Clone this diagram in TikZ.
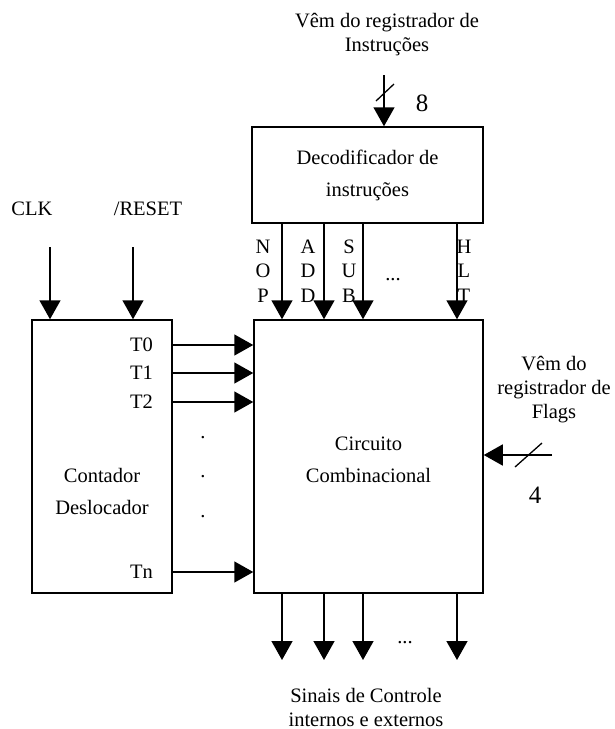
\documentclass[tikz,border=0pt]{standalone}
\usepackage{fontspec}
\setmainfont{Liberation Serif}
\usetikzlibrary{arrows.meta,positioning,calc}
\tikzset{
  block/.style={draw,rectangle,line width=1.5pt,inner sep=0pt,align=center,font=\fontsize{20.5}{32}\selectfont},
  signal/.style={-{Triangle[length=19pt,width=21pt]},line width=1.5pt},
  bus/.style={line width=1.3pt},
  lbl/.style={inner sep=0pt,align=center,font=\fontsize{20.5}{24}\selectfont},
  vlbl/.style={inner sep=0pt,align=center,font=\fontsize{20.5}{24.5}\selectfont},
  width/.style={inner sep=0pt,font=\fontsize{25}{30}\selectfont}
}

\begin{document}
\begin{tikzpicture}[x=1pt,y=-1pt]
\useasboundingbox (0,0) rectangle (614,729);

\node[block,minimum width=231pt,minimum height=96pt] (dec) at (367.5,175) {Decodificador de\\instruções};
\node[block,minimum width=229pt,minimum height=273pt] (comb) at (368.5,456.5) {};
\node[block,draw=none] (combtxt) at ($(comb.center)+(0,3)$) {Circuito\\Combinacional};
\node[block,minimum width=140pt,minimum height=273pt] (cont) at (102,456.5) {};
\node[block,draw=none] (conttxt) at ($(cont.center)+(0,35)$) {Contador\\Deslocador};

\node[lbl] (instr) at (387,35) {Vêm do registrador de\\Instruções};
\node[lbl] (flags) at (554,390) {Vêm do\\registrador de\\Flags};
\node[lbl] (sinais) at (366,707) {Sinais de Controle\\internos e externos};
\node[lbl] (clk) at (32,209) {CLK};
\node[lbl] (rst) at (148,209) {/RESET};

% barramento de instrucoes
\coordinate (in8) at (384,75);
\draw[signal] (in8) -- (in8 |- dec.north);
\draw[bus] ($(in8)+(-8,26)$) -- ++(18,-17);
\node[width] (n8) at (422,103) {8};

% flags
\coordinate (inF) at (552,455);
\draw[signal] (inF) -- (inF -| comb.east);
\draw[bus] ($(inF)+(-37,12)$) -- ++(27,-24);
\node[width] (n4) at (535,495) {4};

\coordinate (clkin) at (50,247);
\coordinate (rstin) at (133,247);
\draw[signal] (clkin) -- (clkin |- cont.north);
\draw[signal] (rstin) -- (rstin |- cont.north);

\node[vlbl] (nop) at (263,271) {N\\O\\P};
\node[vlbl] (add) at (308,271) {A\\D\\D};
\node[vlbl] (sub) at (349,271) {S\\U\\B};
\node[vlbl] (hlt) at (464,271) {H\\L\\T};
\node[lbl] (etc1) at (393,280) {...};

\coordinate (sig) at (0,660);
\foreach \x in {282,324,363,457}{
  \draw[signal] (\x,0 |- dec.south) -- (\x,0 |- comb.north);
  \draw[signal] (\x,0 |- comb.south) -- (\x,0 |- sig);
}
\node[lbl] (etc2) at (405,643) {...};

\foreach \y/\t in {345/T0,373/T1,402/T2,572/Tn}{
  \node[lbl,anchor=east] (\t) at (153,\y) {\t};
  \draw[signal] (cont.east |- \t) -- (comb.west |- \t);
}
\foreach \y [count=\i] in {438,477,517}
  \node[lbl] (dot\i) at (203,\y) {.};

\end{tikzpicture}
\end{document}
